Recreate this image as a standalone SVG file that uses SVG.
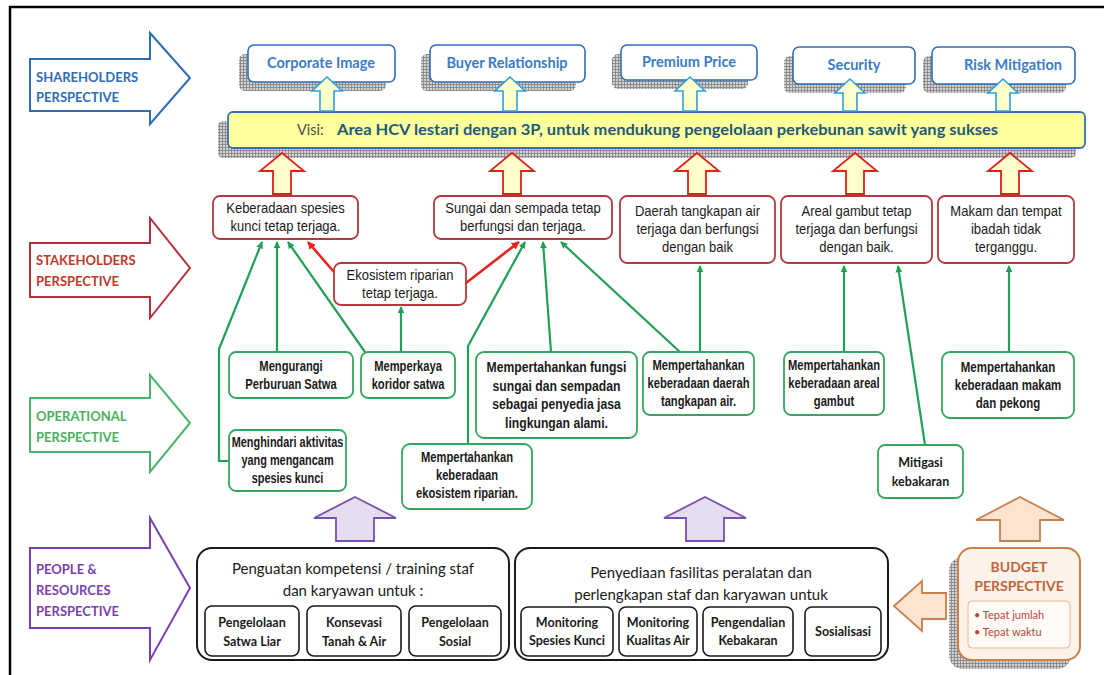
<svg xmlns="http://www.w3.org/2000/svg" width="1104" height="675" viewBox="0 0 1104 675">
<defs>
<pattern id="grid" width="3" height="3" patternUnits="userSpaceOnUse"><rect width="3" height="3" fill="#d2d2d2"/><path d="M0 0.5H3M0.5 0V3" stroke="#808080" stroke-width="0.8"/></pattern>
<marker id="ag" viewBox="0 0 10 10" refX="9" refY="5" markerWidth="7" markerHeight="7" markerUnits="userSpaceOnUse" orient="auto"><path d="M0 0L10 5L0 10z" fill="#22a055"/></marker>
<marker id="ar" viewBox="0 0 10 10" refX="9" refY="5" markerWidth="8" markerHeight="8" markerUnits="userSpaceOnUse" orient="auto"><path d="M0 0L10 5L0 10z" fill="#e8231f"/></marker>
<style>
.persp{font-family:Lato,"Open Sans",sans-serif;font-weight:bold;font-size:13px}
.top{fill:#fff;stroke:#2f6fb5;stroke-width:1.6}
.toptx{font-family:Lato,"Open Sans",sans-serif;font-weight:bold;font-size:14.5px;fill:#3a7cc3;text-anchor:middle}
.shadow{fill:url(#grid)}
.barrow{fill:#ffffcc;stroke:#2f9fe0;stroke-width:1.6}
.rarrow{fill:#ffffcc;stroke:#e0201c;stroke-width:1.8}
.sh{fill:#fff;stroke:#b33a3a;stroke-width:1.8}
.op{fill:#fff;stroke:#34a660;stroke-width:1.8}
.nt{font-family:"Liberation Sans",Arial,sans-serif;font-size:14px;fill:#1a1a1a;text-anchor:middle}
.ob{font-weight:bold}
.cg{fill:none;stroke:#22a055;stroke-width:2.2}
.cr{fill:none;stroke:#e8231f;stroke-width:2.6}
.big{fill:#fff;stroke:#1a1a1a;stroke-width:2}
.sub{fill:#fff;stroke:#1a1a1a;stroke-width:1.6}
.bt{font-family:Lato,"Open Sans",sans-serif;font-size:15px;fill:#1a1a1a;text-anchor:middle}
.st{font-family:Lato,"Open Sans",sans-serif;font-weight:bold;font-size:12.5px;fill:#1a1a1a;text-anchor:middle}
.parrow{fill:#e4dcef;stroke:#7a4fb0;stroke-width:1.8}
.oarrow{fill:#fde4d0;stroke:#c8804c;stroke-width:1.8}
</style>
</defs>
<rect width="1104" height="675" fill="#fff"/>
<path d="M10 675V7H1104" fill="none" stroke="#000" stroke-width="2.5"/>

<!-- perspective arrows -->
<g id="shareholders-perspective">
<polygon points="30,59 150,59 150,33 190,78 150,124 150,111 30,111" fill="#fff" stroke="#2e6db4" stroke-width="2"/>
<text class="persp" x="36" y="82" fill="#2e6db4">SHAREHOLDERS</text>
<text class="persp" x="36" y="102" fill="#2e6db4">PERSPECTIVE</text>
</g>
<g id="stakeholders-perspective">
<polygon points="30,243 150,243 150,218 190,268 150,318 150,297 30,297" fill="#fff" stroke="#b5313a" stroke-width="2"/>
<text class="persp" x="36" y="265" fill="#c0392b">STAKEHOLDERS</text>
<text class="persp" x="36" y="286" fill="#c0392b">PERSPECTIVE</text>
</g>
<g id="operational-perspective">
<polygon points="30,398 150,398 150,375 190,423 150,472 150,452 30,452" fill="#fff" stroke="#4cb36a" stroke-width="2"/>
<text class="persp" x="36" y="421" fill="#4caf60">OPERATIONAL</text>
<text class="persp" x="36" y="442" fill="#4caf60">PERSPECTIVE</text>
</g>
<g id="people-perspective">
<polygon points="30,548 150,548 150,518 190,588 150,660 150,628 30,628" fill="#fff" stroke="#7a3fb0" stroke-width="2"/>
<text class="persp" x="36" y="574" fill="#7a3fb0">PEOPLE &amp;</text>
<text class="persp" x="36" y="595" fill="#7a3fb0">RESOURCES</text>
<text class="persp" x="36" y="616" fill="#7a3fb0">PERSPECTIVE</text>
</g>

<!-- shareholder outcomes -->
<g id="corporate-image">
<rect class="shadow" x="239" y="54" width="147" height="37" rx="6"/>
<rect class="top" x="248" y="45" width="147" height="37" rx="6"/>
<text class="toptx" x="321" y="68">Corporate Image</text>
</g>
<g id="buyer-relationship">
<rect class="shadow" x="421" y="54" width="155" height="37" rx="6"/>
<rect class="top" x="430" y="45" width="155" height="37" rx="6"/>
<text class="toptx" x="507" y="68">Buyer Relationship</text>
</g>
<g id="premium-price">
<rect class="shadow" x="612" y="54" width="136" height="35" rx="6"/>
<rect class="top" x="621" y="45" width="136" height="35" rx="6"/>
<text class="toptx" x="689" y="67">Premium Price</text>
</g>
<g id="security">
<rect class="shadow" x="784" y="56" width="122" height="37" rx="6"/>
<rect class="top" x="793" y="47" width="122" height="37" rx="6"/>
<text class="toptx" x="854" y="70">Security</text>
</g>
<g id="risk-mitigation">
<rect class="shadow" x="923" y="56" width="143" height="37" rx="6"/>
<rect class="top" x="932" y="47" width="143" height="37" rx="6"/>
<text class="toptx" x="1013" y="70">Risk Mitigation</text>
</g>

<!-- vision -->
<g id="vision">
<rect class="shadow" x="218" y="121" width="858" height="37" rx="5"/>
<rect x="228" y="112" width="857" height="36" rx="5" fill="#ffff9e" stroke="#3a6fb5" stroke-width="1.8"/>
<text x="297" y="135" font-family="Lato,'Open Sans',sans-serif" font-size="14.5px" fill="#4a4a4a">Visi:</text>
<text x="337" y="135" font-family="Lato,'Open Sans',sans-serif" font-size="14.5px" font-weight="bold" fill="#1d5a78" textLength="661" lengthAdjust="spacingAndGlyphs">Area HCV lestari dengan 3P, untuk mendukung pengelolaan perkebunan sawit yang sukses</text>
</g>

<!-- block arrows -->
<g id="block-arrows">
<polygon class="barrow" points="327,77 342,91 334,91 334,111 320,111 320,91 312,91"/>
<polygon class="barrow" points="510,77 525,91 517,91 517,111 503,111 503,91 495,91"/>
<polygon class="barrow" points="690,77 705,91 697,91 697,111 683,111 683,91 675,91"/>
<polygon class="barrow" points="850,79 865,93 857,93 857,111 843,111 843,93 835,93"/>
<polygon class="barrow" points="1003,79 1018,93 1010,93 1010,111 996,111 996,93 988,93"/>
<polygon class="rarrow" points="282,153 304,171 291,171 291,194 273,194 273,171 260,171"/>
<polygon class="rarrow" points="512,153 534,171 521,171 521,194 503,194 503,171 490,171"/>
<polygon class="rarrow" points="697,153 719,171 706,171 706,194 688,194 688,171 675,171"/>
<polygon class="rarrow" points="855,153 877,171 864,171 864,194 846,194 846,171 833,171"/>
<polygon class="rarrow" points="1010,153 1032,171 1019,171 1019,194 1001,194 1001,171 988,171"/>
<polygon class="parrow" points="355,497 396,518 374,518 374,541 336,541 336,518 314,518"/>
<polygon class="parrow" points="705,497 746,518 724,518 724,541 686,541 686,518 664,518"/>
<polygon class="oarrow" points="1020,497 1064,520 1040,520 1040,541 1000,541 1000,520 976,520"/>
<polygon class="oarrow" points="894,606 922,581 922,593 946,593 946,619 922,619 922,631"/>
</g>

<!-- connectors -->
<g id="connectors">
<polyline class="cg" points="229,461 219,461 219,349 262,242" marker-end="url(#ag)"/>
<line class="cg" x1="277" y1="352" x2="277" y2="242" marker-end="url(#ag)"/>
<line class="cg" x1="365" y1="352" x2="288" y2="242" marker-end="url(#ag)"/>
<line class="cg" x1="401" y1="352" x2="401" y2="307" marker-end="url(#ag)"/>
<polyline class="cg" points="468,444 468,346 525,242" marker-end="url(#ag)"/>
<line class="cg" x1="551" y1="352" x2="543" y2="242" marker-end="url(#ag)"/>
<line class="cg" x1="680" y1="352" x2="561" y2="242" marker-end="url(#ag)"/>
<line class="cg" x1="700" y1="352" x2="700" y2="266" marker-end="url(#ag)"/>
<line class="cg" x1="844" y1="352" x2="844" y2="266" marker-end="url(#ag)"/>
<line class="cg" x1="925" y1="445" x2="898" y2="266" marker-end="url(#ag)"/>
<line class="cg" x1="1009" y1="352" x2="1009" y2="266" marker-end="url(#ag)"/>
<line class="cr" x1="334" y1="272" x2="308" y2="242" marker-end="url(#ar)"/>
<line class="cr" x1="466" y1="283" x2="519" y2="242" marker-end="url(#ar)"/>
</g>

<!-- stakeholder nodes -->
<g id="keberadaan-spesies">
<rect class="sh" x="213" y="196" width="145" height="43" rx="7"/>
<text class="nt" transform="translate(285.5 213) scale(0.93 1)">Keberadaan spesies</text>
<text class="nt" transform="translate(285.5 231) scale(0.93 1)">kunci tetap terjaga.</text>
</g>
<g id="sungai-sempada">
<rect class="sh" x="434" y="196" width="178" height="43" rx="7"/>
<text class="nt" transform="translate(523 213) scale(0.93 1)">Sungai dan sempada tetap</text>
<text class="nt" transform="translate(523 231) scale(0.93 1)">berfungsi dan terjaga.</text>
</g>
<g id="daerah-tangkapan">
<rect class="sh" x="620" y="196" width="155" height="67" rx="7"/>
<text class="nt" transform="translate(697.5 216) scale(0.93 1)">Daerah tangkapan air</text>
<text class="nt" transform="translate(697.5 234) scale(0.93 1)">terjaga dan berfungsi</text>
<text class="nt" transform="translate(697.5 252) scale(0.93 1)">dengan baik</text>
</g>
<g id="areal-gambut">
<rect class="sh" x="781" y="196" width="151" height="67" rx="7"/>
<text class="nt" transform="translate(856.5 216) scale(0.93 1)">Areal gambut tetap</text>
<text class="nt" transform="translate(856.5 234) scale(0.93 1)">terjaga dan berfungsi</text>
<text class="nt" transform="translate(856.5 252) scale(0.93 1)">dengan baik.</text>
</g>
<g id="makam-ibadah">
<rect class="sh" x="938" y="196" width="136" height="67" rx="7"/>
<text class="nt" transform="translate(1006 216) scale(0.93 1)">Makam dan tempat</text>
<text class="nt" transform="translate(1006 234) scale(0.93 1)">ibadah tidak</text>
<text class="nt" transform="translate(1006 252) scale(0.93 1)">terganggu.</text>
</g>
<g id="ekosistem-riparian">
<rect class="sh" x="334" y="263" width="132" height="42" rx="7"/>
<text class="nt" transform="translate(400 280) scale(0.93 1)">Ekosistem riparian</text>
<text class="nt" transform="translate(400 298) scale(0.93 1)">tetap terjaga.</text>
</g>

<!-- operational nodes -->
<g id="mengurangi-perburuan">
<rect class="op" x="229" y="352" width="124" height="46" rx="7"/>
<text class="nt ob" transform="translate(291 371) scale(0.8 1)">Mengurangi</text>
<text class="nt ob" transform="translate(291 389) scale(0.8 1)">Perburuan Satwa</text>
</g>
<g id="memperkaya-koridor">
<rect class="op" x="361" y="352" width="94" height="46" rx="7"/>
<text class="nt ob" transform="translate(408 371) scale(0.8 1)">Memperkaya</text>
<text class="nt ob" transform="translate(408 389) scale(0.8 1)">koridor satwa</text>
</g>
<g id="fungsi-sungai">
<rect class="op" x="476" y="352" width="161" height="86" rx="8"/>
<text class="nt ob" transform="translate(556.5 372) scale(0.87 1)">Mempertahankan fungsi</text>
<text class="nt ob" transform="translate(556.5 391) scale(0.87 1)">sungai dan sempadan</text>
<text class="nt ob" transform="translate(556.5 409) scale(0.87 1)">sebagai penyedia jasa</text>
<text class="nt ob" transform="translate(556.5 428) scale(0.87 1)">lingkungan alami.</text>
</g>
<g id="daerah-tangkapan-op">
<rect class="op" x="643" y="352" width="111" height="63" rx="7"/>
<text class="nt ob" transform="translate(698.5 370) scale(0.8 1)">Mempertahankan</text>
<text class="nt ob" transform="translate(698.5 388) scale(0.8 1)">keberadaan daerah</text>
<text class="nt ob" transform="translate(698.5 406) scale(0.8 1)">tangkapan air.</text>
</g>
<g id="areal-gambut-op">
<rect class="op" x="784" y="352" width="100" height="63" rx="7"/>
<text class="nt ob" transform="translate(834 370) scale(0.8 1)">Mempertahankan</text>
<text class="nt ob" transform="translate(834 388) scale(0.8 1)">keberadaan areal</text>
<text class="nt ob" transform="translate(834 406) scale(0.8 1)">gambut</text>
</g>
<g id="makam-pekong">
<rect class="op" x="942" y="352" width="132" height="66" rx="8"/>
<text class="nt ob" transform="translate(1008 372) scale(0.82 1)">Mempertahankan</text>
<text class="nt ob" transform="translate(1008 390) scale(0.82 1)">keberadaan makam</text>
<text class="nt ob" transform="translate(1008 408) scale(0.82 1)">dan pekong</text>
</g>
<g id="menghindari-aktivitas">
<rect class="op" x="229" y="430" width="117" height="61" rx="7"/>
<text class="nt ob" transform="translate(287.5 447) scale(0.78 1)">Menghindari aktivitas</text>
<text class="nt ob" transform="translate(287.5 465) scale(0.78 1)">yang mengancam</text>
<text class="nt ob" transform="translate(287.5 483) scale(0.78 1)">spesies kunci</text>
</g>
<g id="ekosistem-riparian-op">
<rect class="op" x="402" y="444" width="130" height="65" rx="8"/>
<text class="nt ob" transform="translate(467 462) scale(0.8 1)">Mempertahankan</text>
<text class="nt ob" transform="translate(467 480) scale(0.8 1)">keberadaan</text>
<text class="nt ob" transform="translate(467 498) scale(0.8 1)">ekosistem riparian.</text>
</g>
<g id="mitigasi-kebakaran">
<rect class="op" x="878" y="445" width="85" height="53" rx="7"/>
<text class="st" x="920.5" y="467" font-size="13.5px">Mitigasi</text>
<text class="st" x="920.5" y="486" font-size="13.5px">kebakaran</text>
</g>

<!-- people & resources -->
<g id="training">
<rect class="big" x="197" y="548" width="312" height="112" rx="15"/>
<text class="bt" x="353" y="574">Penguatan kompetensi / training staf</text>
<text class="bt" x="353" y="596">dan karyawan untuk :</text>
<rect class="sub" x="205" y="606" width="94" height="50" rx="7"/>
<text class="st" x="252" y="627">Pengelolaan</text>
<text class="st" x="252" y="646">Satwa Liar</text>
<rect class="sub" x="307" y="606" width="94" height="50" rx="7"/>
<text class="st" x="354" y="627">Konsevasi</text>
<text class="st" x="354" y="646">Tanah &amp; Air</text>
<rect class="sub" x="409" y="606" width="92" height="50" rx="7"/>
<text class="st" x="455" y="627">Pengelolaan</text>
<text class="st" x="455" y="646">Sosial</text>
</g>
<g id="facilities">
<rect class="big" x="515" y="548" width="373" height="112" rx="15"/>
<text class="bt" x="701" y="578">Penyediaan fasilitas peralatan dan</text>
<text class="bt" x="701" y="600">perlengkapan staf dan karyawan untuk</text>
<rect class="sub" x="521" y="607" width="92" height="49" rx="7"/>
<text class="st" x="567" y="627" font-size="11.5px">Monitoring</text>
<text class="st" x="567" y="645" font-size="11.5px">Spesies Kunci</text>
<rect class="sub" x="619" y="607" width="78" height="49" rx="7"/>
<text class="st" x="658" y="627" font-size="11.5px">Monitoring</text>
<text class="st" x="658" y="645" font-size="11.5px">Kualitas Air</text>
<rect class="sub" x="703" y="607" width="90" height="49" rx="7"/>
<text class="st" x="748" y="627" font-size="11.5px">Pengendalian</text>
<text class="st" x="748" y="645" font-size="11.5px">Kebakaran</text>
<rect class="sub" x="805" y="607" width="76" height="49" rx="7"/>
<text class="st" x="843" y="636" font-size="11.5px">Sosialisasi</text>
</g>
<g id="budget-perspective">
<rect class="shadow" x="949" y="557" width="122" height="112" rx="14"/>
<rect x="958" y="548" width="122" height="112" rx="14" fill="#fdf1e8" stroke="#c8804c" stroke-width="2"/>
<text x="1019" y="572" font-family="Lato,'Open Sans',sans-serif" font-weight="bold" font-size="14px" fill="#c0653a" text-anchor="middle">BUDGET</text>
<text x="1019" y="591" font-family="Lato,'Open Sans',sans-serif" font-weight="bold" font-size="14px" fill="#c0653a" text-anchor="middle">PERSPECTIVE</text>
<rect x="968" y="601" width="102" height="47" rx="4" fill="#fffaf6" stroke="#e6b898" stroke-width="1"/>
<text x="974" y="619" font-family="Lato,'Open Sans',sans-serif" font-size="11px" fill="#b5483a">• Tepat jumlah</text>
<text x="974" y="636" font-family="Lato,'Open Sans',sans-serif" font-size="11px" fill="#b5483a">• Tepat waktu</text>
</g>
</svg>
